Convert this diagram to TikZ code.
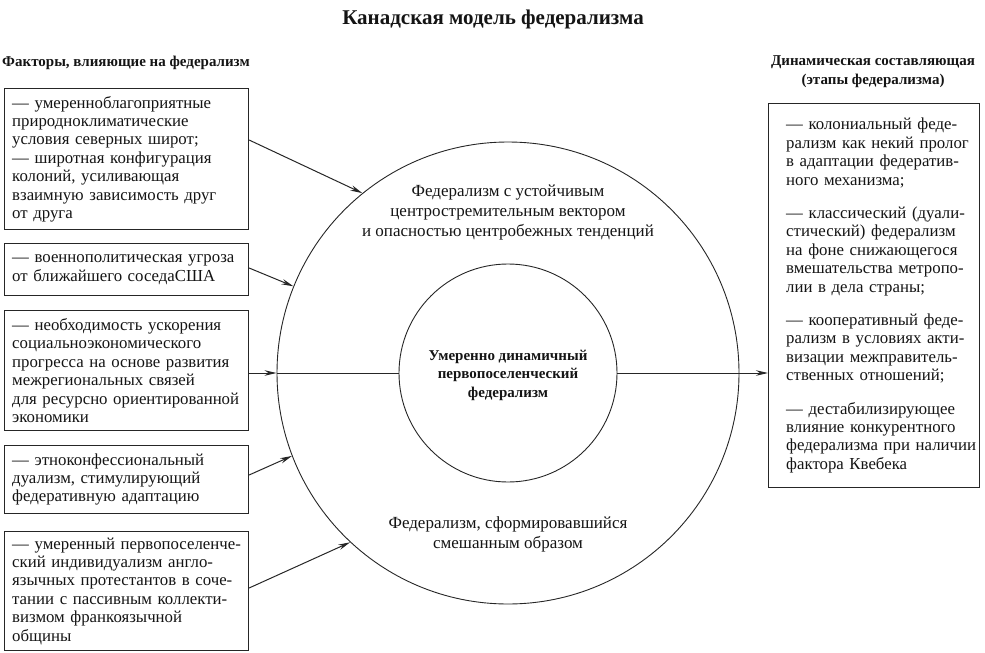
\documentclass[tikz,border=0pt]{standalone}
\usepackage{fontspec}
\setmainfont{Liberation Serif}
\usetikzlibrary{arrows.meta}
\begin{document}
\begin{tikzpicture}[x=1pt,y=-1pt,
  txt/.style={font=\fontsize{16.8}{18.4}\selectfont, text=black!92},
  ringtxt/.style={font=\fontsize{17}{20}\selectfont, text=black!92, align=center},
  frame/.style={draw=black!85, line width=1.1pt, anchor=north west, inner sep=0pt},
  boxl/.style={frame, minimum width=244pt},
  btxt/.style={txt, anchor=west, align=left, text width=260pt, inner sep=0pt},
  arr/.style={draw=black!85, line width=1pt, -{Stealth[length=12pt,width=5.5pt]}},
  plain/.style={draw=black!85, line width=1pt},
  ring/.style={circle, draw=black!85, line width=0.9pt, inner sep=0pt},
  head/.style={font=\bfseries\fontsize{15}{19}\selectfont, align=center, text=black!92}
]
\useasboundingbox (0,0) rectangle (985,653);

\node[font=\bfseries\fontsize{21}{24}\selectfont, text=black!92] (title) at (493,19) {Канадская модель федерализма};
\node[head] (lhead) at (126,63) {Факторы, влияющие на федерализм};
\node[head] (rhead) at (873,72) {Динамическая составляющая\\(этапы федерализма)};

\node[ring, minimum size=462pt] (outer) at (508,373) {};
\node[ring, minimum size=218pt] (inner) at (508,373) {};

\node[ringtxt] (uptext) at (508,212) {Федерализм с устойчивым\\центростремительным вектором\\и опасностью центробежных тенденций};
\node[font=\bfseries\fontsize{15}{18.5}\selectfont, text=black!92, align=center] (intext) at (508,375) {Умеренно динамичный\\первопоселенческий\\федерализм};
\node[ringtxt] (lowtext) at (508,534) {Федерализм, сформировавшийся\\смешанным образом};

\node[boxl, minimum height=141pt] (b1) at (4,88) {};
\node[btxt] (t1) at ([xshift=8pt]b1.west) {— умеренноблагоприятные\\природноклиматические\\условия северных широт;\\— широтная конфигурация\\колоний, усиливающая\\взаимную зависимость друг\\от друга};
\node[boxl, minimum height=52pt] (b2) at (4,243) {};
\node[btxt] (t2) at ([xshift=8pt]b2.west) {— военнополитическая угроза\\от ближайшего соседаСША};
\node[boxl, minimum height=120pt] (b3) at (4,310) {};
\node[btxt] (t3) at ([xshift=8pt]b3.west) {— необходимость ускорения\\социальноэкономического\\прогресса на основе развития\\межрегиональных связей\\для ресурсно ориентированной\\экономики};
\node[boxl, minimum height=68pt] (b4) at (4,445) {};
\node[btxt] (t4) at ([xshift=8pt]b4.west) {— этноконфессиональный\\дуализм, стимулирующий\\федеративную адаптацию};
\node[boxl, minimum height=119pt] (b5) at (4,531) {};
\node[btxt] (t5) at ([xshift=8pt]b5.west) {— умеренный первопоселенче-\\ский индивидуализм англо-\\язычных протестантов в соче-\\тании с пассивным коллекти-\\визмом франкоязычной\\общины};

\node[frame, minimum width=211pt, minimum height=384pt] (rbox) at (768,103) {};
\node[btxt, text width=200pt] (rtxt) at ([xshift=18pt]rbox.west) {— колониальный феде-\\рализм как некий пролог\\в адаптации федератив-\\ного механизма;\\[15pt]— классический (дуали-\\стический) федерализм\\на фоне снижающегося\\вмешательства метропо-\\лии в дела страны;\\[15pt]— кооперативный феде-\\рализм в условиях акти-\\визации межправитель-\\ственных отношений;\\[15pt]— дестабилизирующее\\влияние конкурентного\\федерализма при наличии\\фактора Квебека};

\draw[arr] (b1.east |- 0,140) -- (outer.129);
\draw[arr] (b2.east |- 0,268) -- (outer.158);
\draw[arr] (b3.east |- outer.center) -- (outer.west);
\draw[plain] (outer.west) -- (inner.west);
\draw[arr] (b4.east |- 0,475) -- (outer.201);
\draw[arr] (b5.east |- 0,588) -- (outer.227);
\draw[arr] (inner.east) -- (inner.east -| rbox.west);
\end{tikzpicture}
\end{document}
